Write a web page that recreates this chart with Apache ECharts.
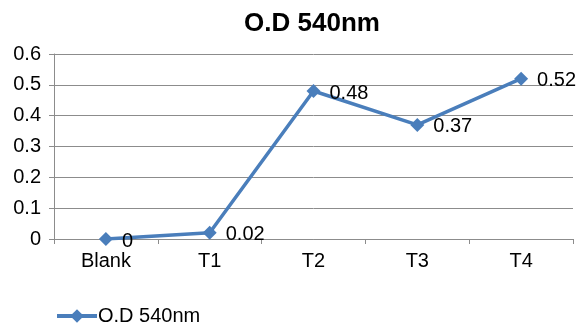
<!DOCTYPE html>
<html>
<head>
<meta charset="utf-8">
<script src="https://cdn.jsdelivr.net/npm/echarts@6/dist/echarts.min.js"></script>
<style>html,body{margin:0;padding:0;background:#fff}#c{width:583px;height:327px}</style>
</head>
<body>
<div id="c"></div>
<script>
const categories = ['Blank', 'T1', 'T2', 'T3', 'T4'];
const odValues = [0, 0.02, 0.48, 0.37, 0.52];
const seriesName = 'O.D 540nm';
const titleText = 'O.D 540nm';

const chart = echarts.init(document.getElementById('c'), null, { renderer: 'canvas' });
const font = 'Liberation Sans, Arial, sans-serif';
const blue = '#4a7ebb';
chart.setOption({
  animation: false,
  title: {
    text: titleText, left: 307, top: 6, textAlign: 'center',
    textStyle: { fontFamily: font, fontSize: 26, fontWeight: 'bold', color: '#000' }
  },
  legend: {
    left: 50, top: 301, itemWidth: 40, itemHeight: 17, itemGap: 8,
    data: [seriesName],
    lineStyle: { width: 4, color: blue },
    textStyle: { fontFamily: font, fontSize: 20, color: '#000', padding: [0, 0, 0, -4] }
  },
  grid: { left: 54, top: 54, right: 10, bottom: 88 },
  xAxis: {
    type: 'category', data: categories, boundaryGap: true,
    axisLine: { lineStyle: { color: '#8c8c8c', width: 1 } },
    axisTick: { show: true, length: 5, lineStyle: { color: '#8c8c8c' } },
    axisLabel: { fontFamily: font, fontSize: 20, color: '#000', margin: 12 }
  },
  yAxis: {
    type: 'value', min: 0, max: 0.6, interval: 0.1,
    axisLine: { show: true, lineStyle: { color: '#8c8c8c', width: 1 } },
    axisTick: { show: true, length: 5, lineStyle: { color: '#8c8c8c' } },
    splitLine: { lineStyle: { color: '#8c8c8c', width: 1 } },
    axisLabel: { fontFamily: font, fontSize: 20, color: '#000', margin: 13,
      formatter: v => String(Math.round(v * 10) / 10) }
  },
  series: [{
    name: seriesName, type: 'line', data: odValues,
    symbol: 'diamond', symbolSize: 14,
    lineStyle: { color: blue, width: 3.5 },
    itemStyle: { color: blue },
    label: { show: true, position: 'right', distance: 9, offset: [0, 2],
      fontFamily: font, fontSize: 20, color: '#000' }
  }]
});
</script>
</body>
</html>
